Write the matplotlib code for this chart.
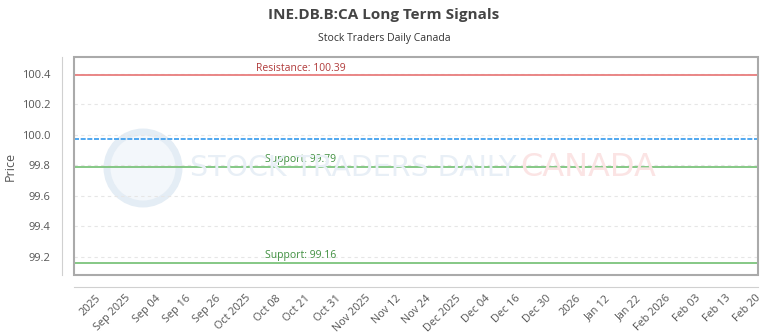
import matplotlib
matplotlib.use('Agg')
import matplotlib.pyplot as plt
from matplotlib.patches import Rectangle, Ellipse

# Chart values
tick_labels = ['2025', 'Sep 2025', 'Sep 04', 'Sep 16', 'Sep 26', 'Oct 2025', 'Oct 08',
               'Oct 21', 'Oct 31', 'Nov 2025', 'Nov 12', 'Nov 24', 'Dec 2025', 'Dec 04',
               'Dec 16', 'Dec 30', '2026', 'Jan 12', 'Jan 22', 'Feb 2026', 'Feb 03',
               'Feb 13', 'Feb 20']
resistance = 100.39
supports = [99.79, 99.16]
price = 99.97
y_ticks = [99.2, 99.4, 99.6, 99.8, 100.0, 100.2, 100.4]

plt.rcParams['font.family'] = ['Open Sans', 'DejaVu Sans']

fig = plt.figure(figsize=(7.68, 3.36), dpi=100)
ax = fig.add_axes([0.0964, 0.182, 0.891, 0.648])
ax.patch.set_visible(False)

ax.set_xlim(-0.7, len(tick_labels) - 1 + 0.1)
ax.set_ylim(99.08, 100.51)

# grid
for y in y_ticks:
    ax.axhline(y, color='#e6e6e6', lw=0.8, ls=(0, (3, 3)), zorder=1)

# watermark
fig.add_artist(Ellipse((143 / 768, 168 / 336), 72 / 768, 72 / 336, transform=fig.transFigure,
                       facecolor='#f3f7fb', edgecolor='#e4edf5', lw=5, zorder=0))
fig.text(190 / 768, 168 / 336, 'STOCK TRADERS DAILY', fontsize=20.5, color='#e8eff6',
         ha='left', va='center', family='DejaVu Sans', zorder=0)
fig.text(520 / 768, 168 / 336, 'CANADA', fontsize=23, color='#fbe4e4',
         ha='left', va='center', family='DejaVu Sans', zorder=0)

# levels
lx = 6.85
ax.axhline(resistance, color='#e87d7d', lw=1.3, zorder=3)
ax.text(lx, resistance + 0.012, f'Resistance: {resistance:.2f}', color='#b03a3a',
        fontsize=7.5, ha='center', va='bottom', zorder=4)
for s in supports:
    ax.axhline(s, color='#7cc47c', lw=1.3, zorder=3)
    ax.text(lx, s + 0.012, f'Support: {s:.2f}', color='#3f8f3f',
            fontsize=7.5, ha='center', va='bottom', zorder=4)
ax.axhline(price, color='#3399ee', lw=1.2, ls=(0, (3, 1)), zorder=3)

# plot box
ax.add_patch(Rectangle((0, 0), 1, 1, transform=ax.transAxes, fill=False,
                       edgecolor='#aaaaaa', lw=1.5, clip_on=False, zorder=5))
for side in ['top', 'right']:
    ax.spines[side].set_visible(False)
ax.spines['left'].set_position(('outward', 9))
ax.spines['bottom'].set_position(('outward', 9))
ax.spines['left'].set_color('#d0d0d0')
ax.spines['bottom'].set_color('#d0d0d0')

ax.set_yticks(y_ticks)
ax.set_yticklabels([f'{v:.1f}' for v in y_ticks])
ax.set_xticks(range(len(tick_labels)))
ax.set_xticklabels(tick_labels, rotation=45, ha='right', rotation_mode='anchor')
ax.tick_params(axis='y', length=0, labelsize=8, colors='#555555', pad=8)
ax.tick_params(axis='x', length=0, labelsize=7.8, colors='#555555', pad=4)
ax.set_ylabel('Price', fontsize=9, color='#555555', labelpad=4)

fig.text(0.5, 0.955, 'INE.DB.B:CA Long Term Signals', ha='center', va='center',
         fontsize=11, fontweight='bold', color='#444444')
fig.text(0.5, 0.884, 'Stock Traders Daily Canada', ha='center', va='center',
         fontsize=7.5, color='#333333')

fig.savefig('out.png', dpi=100, facecolor='white')
